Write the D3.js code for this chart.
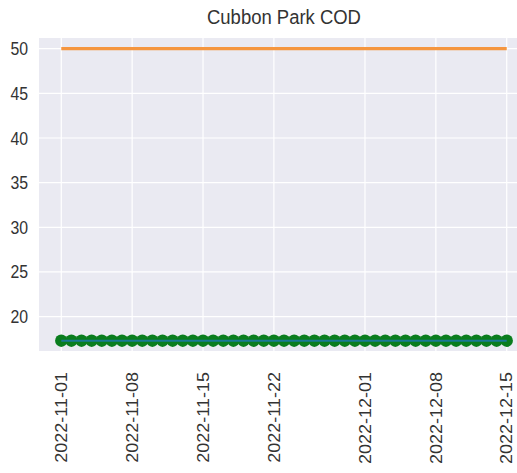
<!DOCTYPE html>
<html>
<head>
<meta charset="utf-8">
<script src="https://cdn.jsdelivr.net/npm/d3@7"></script>
<style>
  html, body { margin: 0; padding: 0; background: #ffffff; }
  svg { display: block; }
  text { font-family: "Liberation Sans", Arial, sans-serif; fill: #333333; }
</style>
</head>
<body>
<svg id="chart" width="517" height="473"></svg>
<script>
// ---- data ----
const title = "Cubbon Park COD";
const dates = [
  "2022-11-01","2022-11-02","2022-11-03","2022-11-04","2022-11-05","2022-11-06","2022-11-07",
  "2022-11-08","2022-11-09","2022-11-10","2022-11-11","2022-11-12","2022-11-13","2022-11-14",
  "2022-11-15","2022-11-16","2022-11-17","2022-11-18","2022-11-19","2022-11-20","2022-11-21",
  "2022-11-22","2022-11-23","2022-11-24","2022-11-25","2022-11-26","2022-11-27","2022-11-28",
  "2022-11-29","2022-11-30","2022-12-01","2022-12-02","2022-12-03","2022-12-04","2022-12-05",
  "2022-12-06","2022-12-07","2022-12-08","2022-12-09","2022-12-10","2022-12-11","2022-12-12",
  "2022-12-13","2022-12-14","2022-12-15"
];
const codValues = [
  17.3,17.3,17.3,17.3,17.3,17.3,17.3,17.3,17.3,17.3,17.3,17.3,17.3,17.3,17.3,
  17.3,17.3,17.3,17.3,17.3,17.3,17.3,17.3,17.3,17.3,17.3,17.3,17.3,17.3,17.3,
  17.3,17.3,17.3,17.3,17.3,17.3,17.3,17.3,17.3,17.3,17.3,17.3,17.3,17.3,17.3
];
const limitValues = [
  50,50,50,50,50,50,50,50,50,50,50,50,50,50,50,
  50,50,50,50,50,50,50,50,50,50,50,50,50,50,50,
  50,50,50,50,50,50,50,50,50,50,50,50,50,50,50
];
const xTickLabels = ["2022-11-01","2022-11-08","2022-11-15","2022-11-22","2022-12-01","2022-12-08","2022-12-15"];
const yTicks = [20, 25, 30, 35, 40, 45, 50];

// ---- layout ----
const svg = d3.select("#chart");
const plot = { left: 39, top: 38, right: 529, bottom: 351 };
const parse = d3.utcParse("%Y-%m-%d");
const d0 = parse(dates[0]), d1 = parse(dates[dates.length - 1]);
const pad = (d1 - d0) * 0.05;

const x = d3.scaleUtc()
  .domain([new Date(+d0 - pad), new Date(+d1 + pad)])
  .range([plot.left, plot.right]);
const y = d3.scaleLinear()
  .domain([16.15, 51.2])
  .range([plot.bottom, plot.top]);

svg.append("defs").append("clipPath").attr("id", "clip")
  .append("rect").attr("x", plot.left).attr("y", plot.top)
  .attr("width", plot.right - plot.left).attr("height", plot.bottom - plot.top);

// background
svg.append("rect")
  .attr("x", plot.left).attr("y", plot.top)
  .attr("width", plot.right - plot.left).attr("height", plot.bottom - plot.top)
  .attr("fill", "#eaeaf2");

// grid
const grid = svg.append("g").attr("clip-path", "url(#clip)");
grid.selectAll("line.gy").data(yTicks).join("line")
  .attr("x1", plot.left).attr("x2", plot.right)
  .attr("y1", d => y(d)).attr("y2", d => y(d))
  .attr("stroke", "#ffffff").attr("stroke-width", 1.2);
grid.selectAll("line.gx").data(xTickLabels).join("line")
  .attr("x1", d => x(parse(d))).attr("x2", d => x(parse(d)))
  .attr("y1", plot.top).attr("y2", plot.bottom)
  .attr("stroke", "#ffffff").attr("stroke-width", 1.2);

// data
const series = dates.map((d, i) => ({ date: parse(d), cod: codValues[i], limit: limitValues[i] }));
const g = svg.append("g").attr("clip-path", "url(#clip)");

g.append("path").datum(series)
  .attr("fill", "none").attr("stroke", "#f5963f").attr("stroke-width", 3.2)
  .attr("d", d3.line().x(d => x(d.date)).y(d => y(d.limit)));

g.selectAll("circle").data(series).join("circle")
  .attr("cx", d => x(d.date)).attr("cy", d => y(d.cod))
  .attr("r", 6.2).attr("fill", "#0a7d1e");

g.append("path").datum(series)
  .attr("fill", "none").attr("stroke", "#1f77b4").attr("stroke-width", 2).attr("stroke-opacity", 0.8)
  .attr("d", d3.line().x(d => x(d.date)).y(d => y(d.cod)));

// y tick labels
svg.append("g").selectAll("text").data(yTicks).join("text")
  .attr("transform", d => `translate(28,${y(d)}) scale(0.88,1)`)
  .attr("text-anchor", "end").attr("dy", "0.36em")
  .attr("font-size", 18)
  .text(d => d);

// x tick labels
svg.append("g").selectAll("text").data(xTickLabels).join("text")
  .attr("transform", d => `translate(${x(parse(d))},372) scale(0.88,1) rotate(-90)`)
  .attr("text-anchor", "end").attr("dy", "0.36em")
  .attr("font-size", 18)
  .text(d => d);

// title
const cx = (plot.left + plot.right) / 2;
svg.append("text")
  .attr("x", cx).attr("y", 24)
  .attr("text-anchor", "middle")
  .attr("transform", `translate(${cx},0) scale(0.88,1) translate(${-cx},0)`)
  .attr("font-size", 21)
  .text(title);
</script>
</body>
</html>
